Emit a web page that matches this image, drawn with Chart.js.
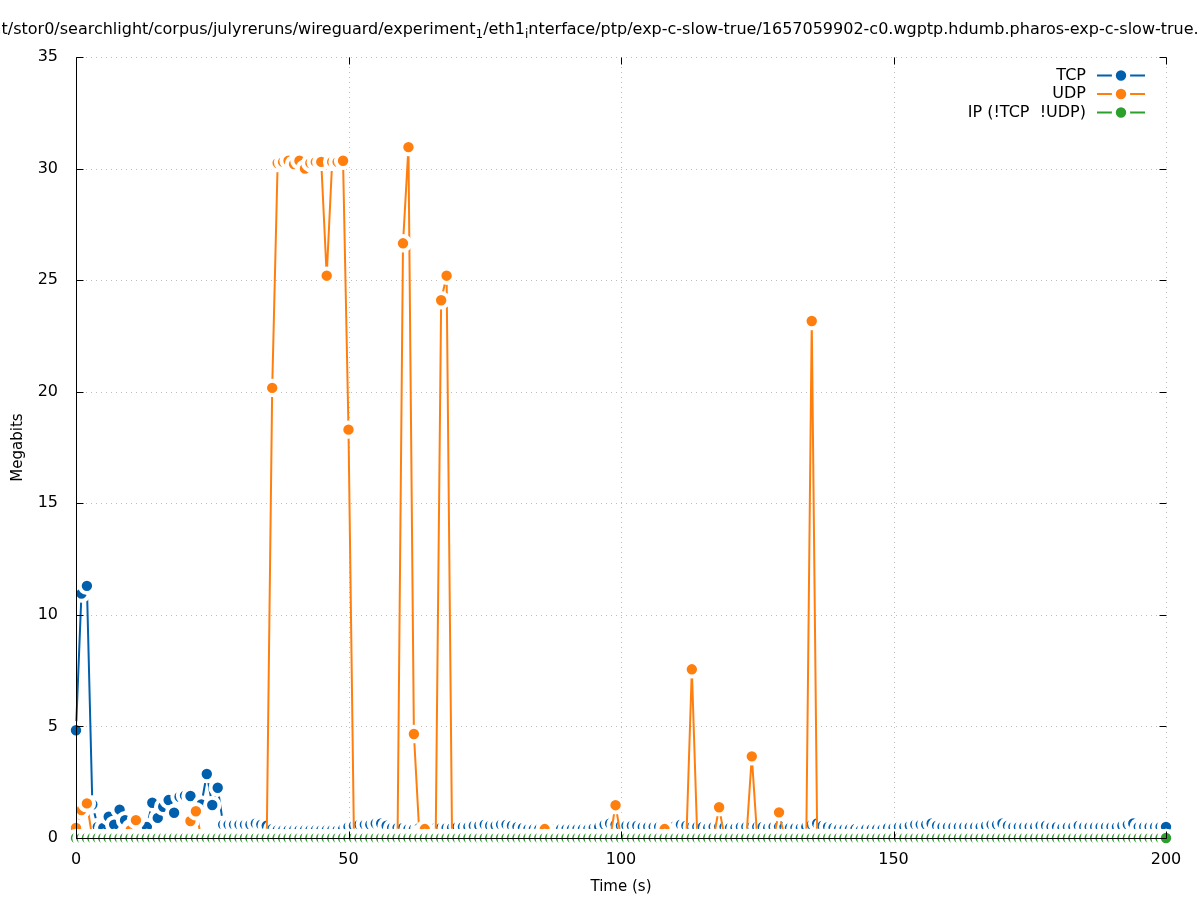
<!DOCTYPE html>
<html><head><meta charset="utf-8">
<script src="https://cdn.jsdelivr.net/npm/chart.js@4.4.1/dist/chart.umd.min.js"></script>
<style>html,body{margin:0;padding:0;background:#fff;}#wrap{width:1197px;height:900px;}</style>
</head><body><div id="wrap"><canvas id="c" width="1197" height="900"></canvas></div>
<script>
// ---- data (1-second bins) ----
const seconds = [
 0,1,2,3,4,5,6,7,8,9, 10,11,12,13,14,15,16,17,18,19,
 20,21,22,23,24,25,26,27,28,29, 30,31,32,33,34,35,36,37,38,39,
 40,41,42,43,44,45,46,47,48,49, 50,51,52,53,54,55,56,57,58,59,
 60,61,62,63,64,65,66,67,68,69, 70,71,72,73,74,75,76,77,78,79,
 80,81,82,83,84,85,86,87,88,89, 90,91,92,93,94,95,96,97,98,99,
 100,101,102,103,104,105,106,107,108,109, 110,111,112,113,114,115,116,117,118,119,
 120,121,122,123,124,125,126,127,128,129, 130,131,132,133,134,135,136,137,138,139,
 140,141,142,143,144,145,146,147,148,149, 150,151,152,153,154,155,156,157,158,159,
 160,161,162,163,164,165,166,167,168,169, 170,171,172,173,174,175,176,177,178,179,
 180,181,182,183,184,185,186,187,188,189, 190,191,192,193,194,195,196,197,198,199,
 200
];
const tcpMbits = [
 4.83,10.95,11.3,1.5,0.5,0.45,0.95,0.6,1.27,0.8,
 0.45,0.35,0.35,0.5,1.58,0.9,1.4,1.7,1.13,1.85,
 1.9,1.88,1.2,1.5,2.87,1.48,2.25,0.6,0.6,0.6,
 0.6,0.6,0.6,0.65,0.6,0.55,0.4,0.35,0.35,0.35,
 0.35,0.35,0.35,0.35,0.35,0.35,0.35,0.35,0.35,0.4,
 0.5,0.55,0.6,0.6,0.6,0.65,0.65,0.55,0.45,0.45,
 0.45,0.4,0.4,0.45,0.45,0.45,0.45,0.45,0.45,0.45,
 0.5,0.5,0.5,0.55,0.55,0.6,0.55,0.55,0.6,0.6,
 0.55,0.5,0.45,0.4,0.4,0.4,0.4,0.4,0.4,0.4,
 0.4,0.4,0.4,0.4,0.4,0.45,0.5,0.6,0.65,0.6,
 0.55,0.55,0.55,0.55,0.5,0.5,0.5,0.5,0.5,0.5,
 0.55,0.6,0.55,0.5,0.5,0.5,0.45,0.5,0.5,0.5,
 0.45,0.45,0.5,0.5,0.5,0.5,0.5,0.45,0.5,0.5,
 0.5,0.45,0.45,0.45,0.5,0.6,0.65,0.55,0.5,0.45,
 0.4,0.4,0.4,0.4,0.35,0.4,0.4,0.4,0.4,0.45,
 0.45,0.5,0.5,0.55,0.6,0.6,0.6,0.65,0.55,0.5,
 0.5,0.5,0.5,0.5,0.5,0.5,0.5,0.55,0.6,0.6,
 0.65,0.55,0.5,0.5,0.5,0.5,0.5,0.55,0.55,0.5,
 0.5,0.45,0.5,0.5,0.55,0.5,0.5,0.5,0.5,0.5,
 0.5,0.5,0.55,0.6,0.65,0.5,0.5,0.5,0.5,0.5,
 0.5
];
const udpMbits = [
 0.45,1.25,1.55,0,0,0,0,0,0,0,
 0.35,0.8,0,0,0,0,0,0,0,0,
 0,0.76,1.2,0,0,0,0,0,0,0,
 0,0,0,0,0,0,20.17,30.25,30.3,30.35,
 30.2,30.35,30.0,30.25,30.3,30.3,25.2,30.3,30.3,30.35,
 18.3,0,0,0,0,0,0,0,0,0,
 26.65,30.96,4.66,0.2,0.4,0,0,24.1,25.2,0,
 0,0,0,0,0,0,0,0,0,0,
 0,0,0,0,0,0,0.4,0,0,0,
 0,0,0,0,0,0,0,0,0,1.47,
 0,0,0,0,0,0,0,0,0.4,0,
 0,0,0,7.56,0,0,0,0,1.38,0,
 0,0,0,0,3.66,0,0,0,0,1.15,
 0,0,0,0,0,23.17,0,0,0,0,
 0,0,0,0,0,0,0,0,0,0,
 0,0,0,0,0,0,0,0,0,0,
 0,0,0,0,0,0,0,0,0,0,
 0,0,0,0,0,0,0,0,0,0,
 0,0,0,0,0,0,0,0,0,0,
 0,0,0,0,0,0,0,0,0,0,
 0
];
const ipOtherMbits = [
 0,0,0,0,0,0,0,0,0,0, 0,0,0,0,0,0,0,0,0,0,
 0,0,0,0,0,0,0,0,0,0, 0,0,0,0,0,0,0,0,0,0,
 0,0,0,0,0,0,0,0,0,0, 0,0,0,0,0,0,0,0,0,0,
 0,0,0,0,0,0,0,0,0,0, 0,0,0,0,0,0,0,0,0,0,
 0,0,0,0,0,0,0,0,0,0, 0,0,0,0,0,0,0,0,0,0,
 0,0,0,0,0,0,0,0,0,0, 0,0,0,0,0,0,0,0,0,0,
 0,0,0,0,0,0,0,0,0,0, 0,0,0,0,0,0,0,0,0,0,
 0,0,0,0,0,0,0,0,0,0, 0,0,0,0,0,0,0,0,0,0,
 0,0,0,0,0,0,0,0,0,0, 0,0,0,0,0,0,0,0,0,0,
 0,0,0,0,0,0,0,0,0,0, 0,0,0,0,0,0,0,0,0,0,
 0
];
const seriesNames = ['TCP', 'UDP', 'IP (!TCP  !UDP)'];
const xTickValues = [0, 50, 100, 150, 200];
const yTickValues = [0, 5, 10, 15, 20, 25, 30, 35];
const titleParts = [
  ['/mnt/stor0/searchlight/corpus/julyreruns/wireguard/experiment', false],
  ['1', true],
  ['/eth1', false],
  ['i', true],
  ['nterface/ptp/exp-c-slow-true/1657059902-c0.wgptp.hdumb.pharos-exp-c-slow-true.pcap', false]
];
const xTitle = 'Time (s)';
const yTitle = 'Megabits';

// ---- styling ----
const COLORS = ['#0060ad', '#ff7f0e', '#2ca02c'];
const FONT = '"DejaVu Sans", sans-serif';
const PT_R = 7.2, PT_BW = 4;

function pts(vals){ return seconds.map((s,i)=>({x:s, y:vals[i]})); }
function ds(label, vals, color, order){
  return {label, data: pts(vals), borderColor: color, backgroundColor: color,
    borderWidth: 2, tension: 0, pointRadius: PT_R, pointHoverRadius: PT_R,
    pointBackgroundColor: color, pointBorderColor: '#ffffff', pointBorderWidth: PT_BW,
    pointHoverBorderWidth: PT_BW, clip: false, order};
}

const framePlugin = {
  id: 'frame',
  beforeDatasetsDraw(chart){
    const {ctx, chartArea: a, scales: {x, y}} = chart;
    ctx.save();
    ctx.strokeStyle = '#bdbdbd'; ctx.lineWidth = 1; ctx.setLineDash([1, 4]);
    xTickValues.forEach(v => { if (v === 0) return;
      const px = Math.round(x.getPixelForValue(v)) + 0.5;
      ctx.beginPath(); ctx.moveTo(px, a.top); ctx.lineTo(px, a.bottom); ctx.stroke(); });
    yTickValues.forEach(v => { if (v === 0) return;
      const py = Math.round(y.getPixelForValue(v)) + 0.5;
      ctx.beginPath(); ctx.moveTo(a.left, py); ctx.lineTo(a.right, py); ctx.stroke(); });
    ctx.restore();
  },
  afterDatasetsDraw(chart){
    const {ctx, chartArea: a, scales: {x, y}} = chart;
    ctx.save();
    ctx.strokeStyle = '#000'; ctx.lineWidth = 1; ctx.setLineDash([]);
    const L = Math.round(a.left) + 0.5, B = Math.round(a.bottom) + 0.5;
    const R = Math.round(a.right) + 0.5, T = Math.round(a.top) + 0.5;
    ctx.beginPath(); ctx.moveTo(L, T); ctx.lineTo(L, B); ctx.lineTo(R, B); ctx.stroke();
    const tl = 7;
    yTickValues.forEach(v => {
      const py = Math.round(y.getPixelForValue(v)) + 0.5;
      ctx.beginPath(); ctx.moveTo(L, py); ctx.lineTo(L + tl, py);
      ctx.moveTo(R, py); ctx.lineTo(R - tl, py); ctx.stroke(); });
    xTickValues.forEach(v => {
      const px = Math.round(x.getPixelForValue(v)) + 0.5;
      ctx.beginPath(); ctx.moveTo(px, B); ctx.lineTo(px, B - tl);
      ctx.moveTo(px, T); ctx.lineTo(px, T + tl); ctx.stroke(); });
    ctx.restore();
  },
  afterDraw(chart){
    const {ctx, chartArea: a} = chart;
    ctx.save();
    ctx.fillStyle = '#000';
    ctx.font = '16px ' + FONT;
    ctx.textBaseline = 'alphabetic'; ctx.textAlign = 'left';
    let tx = 1.5 - ctx.measureText('/mn').width;
    const baseY = 34;
    titleParts.forEach(([s, sub]) => {
      ctx.font = (sub ? '12px ' : '16px ') + FONT;
      ctx.fillText(s, tx, sub ? baseY + 4 : baseY);
      tx += ctx.measureText(s).width;
    });
    ctx.font = '15px ' + FONT;
    ctx.textAlign = 'center'; ctx.textBaseline = 'middle';
    ctx.fillText(xTitle, (a.left + a.right) / 2, 887);
    ctx.save(); ctx.translate(18, (a.top + a.bottom) / 2); ctx.rotate(-Math.PI / 2);
    ctx.fillText(yTitle, 0, 0); ctx.restore();
    const rows = [75.5, 94, 112.5];
    chart.data.datasets.forEach((d, i) => {
      const yy = rows[i];
      ctx.font = '16px ' + FONT; ctx.textAlign = 'right'; ctx.textBaseline = 'middle';
      ctx.fillStyle = '#000';
      ctx.fillText(seriesNames[i], 1086, yy);
      ctx.strokeStyle = d.borderColor; ctx.lineWidth = 2;
      ctx.beginPath(); ctx.moveTo(1097, yy); ctx.lineTo(1145, yy); ctx.stroke();
      ctx.beginPath(); ctx.arc(1121, yy, PT_R, 0, Math.PI * 2);
      ctx.fillStyle = d.borderColor; ctx.fill();
      ctx.lineWidth = PT_BW; ctx.strokeStyle = '#fff'; ctx.stroke();
    });
    ctx.restore();
  }
};

Chart.defaults.font.family = FONT;
Chart.defaults.font.size = 16;
Chart.defaults.color = '#000';

new Chart(document.getElementById('c'), {
  type: 'line',
  data: { datasets: [
    ds(seriesNames[0], tcpMbits, COLORS[0], 3),
    ds(seriesNames[1], udpMbits, COLORS[1], 2),
    ds(seriesNames[2], ipOtherMbits, COLORS[2], 1)
  ]},
  options: {
    responsive: false, animation: false, devicePixelRatio: 1, events: [],
    layout: { padding: { left: 0, right: 31, top: 57, bottom: 0 } },
    plugins: { legend: { display: false }, title: { display: false }, tooltip: { enabled: false } },
    scales: {
      x: { type: 'linear', min: 0, max: 200,
        grid: { display: false }, border: { display: false },
        ticks: { stepSize: 50, autoSkip: false, maxRotation: 0, padding: 4, color: '#000' },
        afterFit: s => { s.height = 62; } },
      y: { type: 'linear', min: 0, max: 35,
        grid: { display: false }, border: { display: false },
        ticks: { stepSize: 5, autoSkip: false, padding: 10, color: '#000' },
        afterFit: s => { s.width = 76; } }
    }
  },
  plugins: [framePlugin]
});
</script>
</body></html>
